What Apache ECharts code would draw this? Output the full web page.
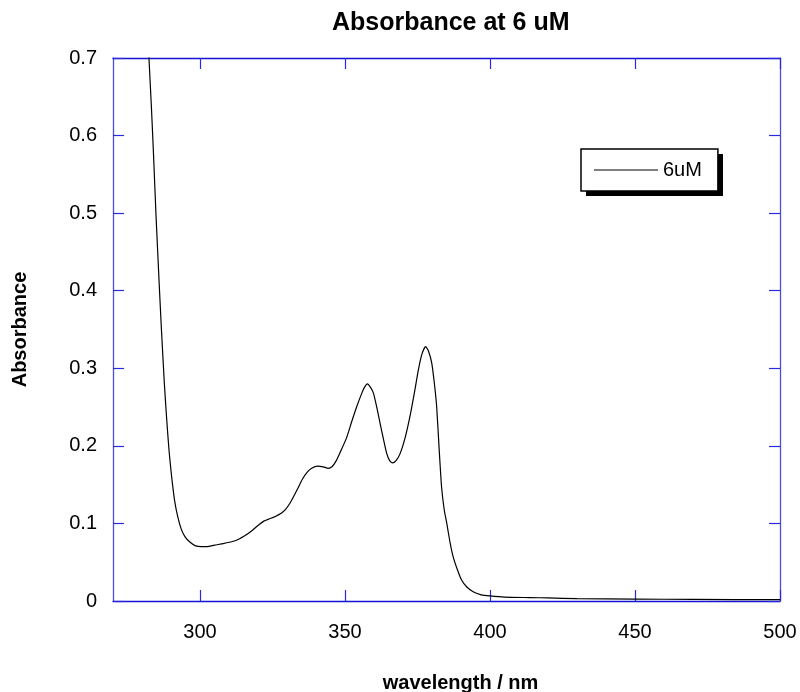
<!DOCTYPE html>
<html>
<head>
<meta charset="utf-8">
<script src="https://cdn.jsdelivr.net/npm/echarts@6/dist/echarts.min.js"></script>
<style>
  html, body { margin: 0; padding: 0; background: #fff; }
  #chart { width: 800px; height: 692px; }
</style>
</head>
<body>
<div id="chart"></div>
<script>
// wavelength (nm) and absorbance
var wavelength = [281.2, 282.4, 283.2, 283.9, 284.8, 285.8, 286.7, 287.7, 288.5, 289.3,
    290.0, 290.5, 291.3, 292.3, 293.5, 294.8, 296.5, 298.5, 300.5, 302.5,
    305, 308, 311.5, 313.5, 315, 318, 320.5, 322, 324, 326,
    328, 329.5, 331, 332.2, 333.7, 335.3, 337, 338.5, 340.5, 342.5,
    344.2, 345.5, 347, 348.5, 350.5, 352.3, 354, 355.8, 356.8, 357.7,
    358.7, 359.8, 361, 362.1, 363.3, 364.4, 365.4, 366.4, 367.6, 369,
    370.7, 372.4, 374, 375.3, 376.5, 377.8, 378.8, 379.9, 380.8, 381.6,
    382.4, 383.3, 384.2, 385.1, 386.2, 387.3, 388.8, 390.2, 392, 394.2,
    397, 400, 405, 413.8, 420, 430, 450, 470, 500];
var absorbance = [0.80, 0.70, 0.64, 0.582, 0.50, 0.419, 0.35, 0.281, 0.235, 0.195,
    0.168, 0.151, 0.128, 0.109, 0.093, 0.083, 0.076, 0.071, 0.070, 0.070,
    0.072, 0.074, 0.077, 0.080, 0.083, 0.091, 0.099, 0.103, 0.106, 0.109,
    0.113, 0.118, 0.126, 0.134, 0.145, 0.157, 0.166, 0.171, 0.174, 0.173,
    0.171, 0.173, 0.181, 0.193, 0.210, 0.231, 0.250, 0.268, 0.276, 0.280,
    0.276, 0.268, 0.249, 0.229, 0.208, 0.190, 0.181, 0.178, 0.181, 0.190,
    0.210, 0.238, 0.270, 0.298, 0.318, 0.328, 0.322, 0.307, 0.281, 0.251,
    0.200, 0.147, 0.118, 0.100, 0.076, 0.057, 0.040, 0.027, 0.018, 0.012,
    0.008, 0.0065, 0.005, 0.0044, 0.004, 0.003, 0.0025, 0.002, 0.0018];
var xTicks = [300, 350, 400, 450, 500];

var points = [];
for (var i = 0; i < wavelength.length; i++) {
    points.push([wavelength[i], absorbance[i]]);
}

var font = 'Liberation Sans, Arial, sans-serif';
var frameDark = '#1414d4';
var frameLight = '#4c4ce4';

var xBase = {
    type: 'value',
    min: 270,
    max: 500,
    splitLine: { show: false },
    axisLine: { show: true, onZero: false, lineStyle: { color: frameDark, width: 1.3 } },
    axisTick: { show: true, inside: true, length: 11, customValues: xTicks,
        lineStyle: { color: '#2a2adc', width: 1.2 } }
};
var yBase = {
    type: 'value',
    min: 0,
    max: 0.7,
    interval: 0.1,
    splitLine: { show: false },
    axisLine: { show: true, onZero: false, lineStyle: { color: frameLight, width: 1.3 } },
    axisTick: { show: true, inside: true, length: 11, lineStyle: { color: '#2a2adc', width: 1.2 } }
};

var option = {
    animation: false,
    backgroundColor: '#fff',
    title: {
        text: 'Absorbance at 6 uM',
        left: 327,
        top: 6,
        textStyle: { fontFamily: font, fontSize: 25, fontWeight: 'bold', color: '#000' }
    },
    // drop shadow behind the legend box
    graphic: [
        {
            type: 'rect',
            z: 1,
            shape: { x: 586, y: 154, width: 137, height: 42 },
            style: { fill: '#000' }
        }
    ],
    legend: {
        z: 5,
        left: 581,
        top: 149,
        orient: 'vertical',
        padding: [11, 16, 11, 13],
        backgroundColor: '#fff',
        borderColor: '#000',
        borderWidth: 1.5,
        borderRadius: 0,
        icon: 'rect',
        itemWidth: 64,
        itemHeight: 1,
        itemGap: 0,
        textStyle: { fontFamily: font, fontSize: 20, color: '#000' },
        data: ['6uM']
    },
    grid: { left: 113, right: 20, top: 58, bottom: 91, outerBoundsMode: 'none' },
    xAxis: [
        Object.assign({}, xBase, {
            position: 'bottom',
            name: 'wavelength / nm',
            nameLocation: 'middle',
            nameGap: 72,
            nameTextStyle: { fontFamily: font, fontSize: 20, fontWeight: 'bold', color: '#000',
                padding: [0, 0, 0, 28] },
            axisLabel: { show: true, customValues: xTicks, margin: 21,
                fontFamily: font, fontSize: 20, color: '#000' }
        }),
        Object.assign({}, xBase, {
            position: 'top',
            axisLabel: { show: false }
        })
    ],
    yAxis: [
        Object.assign({}, yBase, {
            position: 'left',
            name: 'Absorbance',
            nameLocation: 'middle',
            nameGap: 83,
            nameTextStyle: { fontFamily: font, fontSize: 20, fontWeight: 'bold', color: '#000' },
            axisLabel: { show: true, margin: 16, fontFamily: font, fontSize: 20, color: '#000' }
        }),
        Object.assign({}, yBase, {
            position: 'right',
            axisLabel: { show: false }
        })
    ],
    series: [
        {
            name: '6uM',
            type: 'line',
            data: points,
            xAxisIndex: 0,
            yAxisIndex: 0,
            showSymbol: false,
            smooth: 0.2,
            clip: true,
            color: '#000',
            lineStyle: { color: '#000', width: 1.2 }
        }
    ]
};

var chart = echarts.init(document.getElementById('chart'));
chart.setOption(option);
</script>
</body>
</html>
